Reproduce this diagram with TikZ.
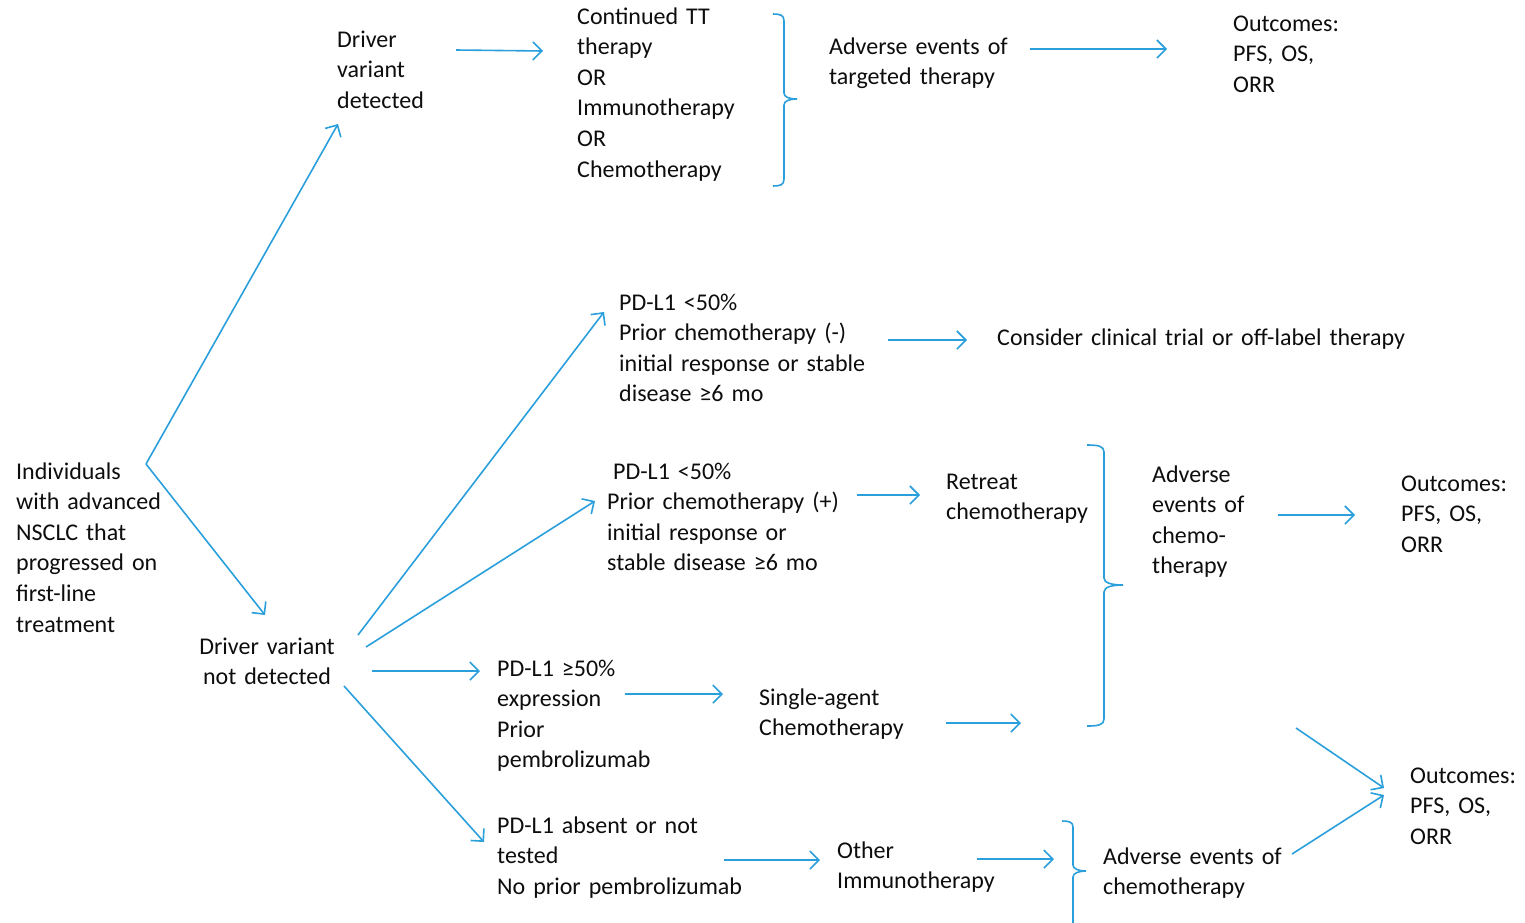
\documentclass[tikz,border=0pt]{standalone}
\usepackage{fontspec}
\setmainfont{Carlito}
\usetikzlibrary{arrows.meta}
\definecolor{ablue}{HTML}{2A9FDB}
\begin{document}
\begin{tikzpicture}[x=1pt,y=-1pt,
  txt/.style={anchor=base west,inner sep=0pt,text width=470pt,align=left,font=\fontsize{24}{30.6}\selectfont,text=black!95},
  arr/.style={draw=ablue,line width=1.6pt,-{Straight Barb[length=9pt,width=18pt]}},
  bracket/.style={draw=ablue,line width=1.6pt}]
\useasboundingbox (0,0) rectangle (1525,922);

% texts
\node[txt] (indiv) at (16,479) {Individuals\\with advanced\\NSCLC that\\progressed on\\first-line\\treatment};
\node[txt] (dvd) at (337,47) {Driver\\variant\\detected};
\node[txt] (cont) at (577,24) {Continued TT\\therapy\\OR\\Immunotherapy\\OR\\Chemotherapy};
\node[txt] (aett) at (829,54) {Adverse events of\\targeted therapy};
\node[txt] (out1) at (1233,31) {Outcomes:\\PFS, OS,\\ORR};
\node[txt] (pdneg) at (619,310) {PD-L1 <50\%\\Prior chemotherapy (-)\\initial response or stable\\disease ≥6 mo};
\node[txt] (trial) at (997,345) {Consider clinical trial or off-label therapy};
\node[txt] (pdpos) at (607,479) {\hspace*{6pt}PD-L1 <50\%\\Prior chemotherapy (+)\\initial response or\\stable disease ≥6 mo};
\node[txt] (retreat) at (946,489) {Retreat\\chemotherapy};
\node[txt] (aechemo) at (1152,482) {Adverse\\events of\\chemo-\\therapy};
\node[txt] (out2) at (1401,491) {Outcomes:\\PFS, OS,\\ORR};
\node[txt,anchor=base,text width=160pt,align=center] (dvnd) at (267,654) {Driver variant\\not detected};
\node[txt] (pdhigh) at (497,676) {PD-L1 ≥50\%\\expression\\Prior\\pembrolizumab};
\node[txt] (single) at (759,705) {Single-agent\\Chemotherapy};
\node[txt] (pdabs) at (497,833) {PD-L1 absent or not\\tested\\No prior pembrolizumab};
\node[txt] (other) at (837,858) {Other\\Immunotherapy};
\node[txt] (aechemo2) at (1103,864) {Adverse events of\\chemotherapy};
\node[txt] (out3) at (1410,783) {Outcomes:\\PFS, OS,\\ORR};

% connector end points
\coordinate (split) at (146,464);
\coordinate (dvdIn) at (338,124);
\coordinate (dvndIn) at (265,615);
\coordinate (dvdOut) at (456,50);
\coordinate (contIn) at (543,51);
\coordinate (aettOut) at (1030,49);
\coordinate (out1In) at (1167,49);
\coordinate (dvndA) at (358,635);
\coordinate (pdnegIn) at (604,312);
\coordinate (dvndB) at (366,647);
\coordinate (pdposIn) at (595,501);
\coordinate (dvndC) at (372,671);
\coordinate (pdhighIn) at (480,671);
\coordinate (dvndD) at (344,686);
\coordinate (pdabsIn) at (484,842);
\coordinate (pdnegOut) at (888,340);
\coordinate (trialIn) at (967,340);
\coordinate (pdposOut) at (857,495);
\coordinate (retreatIn) at (920,495);
\coordinate (pdhighOut) at (625,694);
\coordinate (singleIn) at (723,694);
\coordinate (singleOut) at (946,723);
\coordinate (bracketIn) at (1021,723);
\coordinate (aechemoOut) at (1278,515);
\coordinate (out2In) at (1355,515);
\coordinate (pdabsOut) at (724,860);
\coordinate (otherIn) at (820,860);
\coordinate (otherOut) at (977,859);
\coordinate (bracket3In) at (1054,859);
\coordinate (upOut) at (1296,728);
\coordinate (out3InA) at (1384,788);
\coordinate (aechemo2Out) at (1292,854);
\coordinate (out3InB) at (1384,795);

% connectors
\draw[arr] (split) -- (dvdIn);
\draw[arr] (split) -- (dvndIn);
\draw[arr] (dvdOut) -- (contIn);
\draw[arr] (aettOut) -- (out1In);
\draw[arr] (dvndA) -- (pdnegIn);
\draw[arr] (dvndB) -- (pdposIn);
\draw[arr] (dvndC) -- (pdhighIn);
\draw[arr] (dvndD) -- (pdabsIn);
\draw[arr] (pdnegOut) -- (trialIn);
\draw[arr] (pdposOut) -- (retreatIn);
\draw[arr] (pdhighOut) -- (singleIn);
\draw[arr] (singleOut) -- (bracketIn);
\draw[arr] (aechemoOut) -- (out2In);
\draw[arr] (pdabsOut) -- (otherIn);
\draw[arr] (otherOut) -- (bracket3In);
\draw[arr] (upOut) -- (out3InA);
\draw[arr] (aechemo2Out) -- (out3InB);

% brackets
\draw[bracket] (773,14) .. controls (780,14) and (784,15) .. (784,21) -- (784,93)
  .. controls (784,97) and (789,99) .. (797,99)
  .. controls (789,99) and (784,101) .. (784,105) -- (784,179)
  .. controls (784,185) and (780,186) .. (773,186);
\draw[bracket] (1087,445) .. controls (1098,445) and (1104,446) .. (1104,452) -- (1104,578)
  .. controls (1104,583) and (1112,585) .. (1123,585)
  .. controls (1112,585) and (1104,587) .. (1104,592) -- (1104,719)
  .. controls (1104,725) and (1098,726) .. (1087,726);
\draw[bracket] (1062,821) .. controls (1069,821) and (1073,822) .. (1073,827) -- (1073,865)
  .. controls (1073,869) and (1079,871) .. (1086,871)
  .. controls (1079,871) and (1073,873) .. (1073,877) -- (1073,925);
\end{tikzpicture}
\end{document}
